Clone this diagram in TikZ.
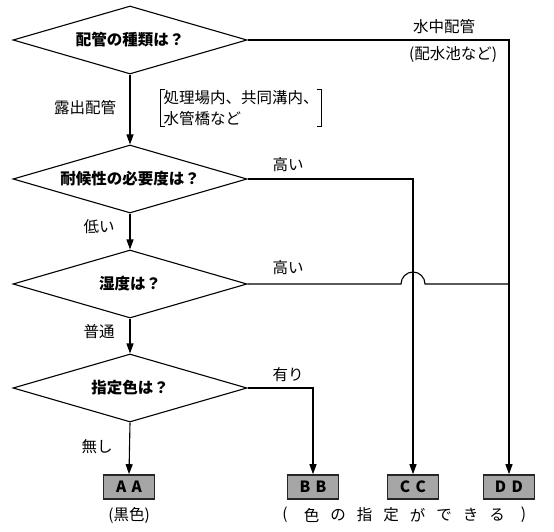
\documentclass[tikz,border=0pt]{standalone}
\usepackage{fontspec}
\setmainfont{Noto Sans CJK JP}
\usepackage{tikz}
\usetikzlibrary{arrows.meta,shapes.geometric,calc}

\begin{document}
\begin{tikzpicture}[
  x=1pt, y=-1pt,
  font=\fontsize{15.5}{21}\selectfont,
  decision/.style={diamond, draw, line width=1.1pt, aspect=3.4,
    minimum width=234pt, minimum height=68pt, inner sep=0pt,
    font=\fontsize{15.5}{21}\selectfont\bfseries},
  result/.style={draw=black!85, line width=1.6pt, fill=black!35,
    minimum width=51pt, minimum height=24pt, inner sep=0pt,
    font=\fontsize{15.5}{21}\selectfont\bfseries},
  lbl/.style={inner sep=0pt},
  bracket/.style={line width=0.8pt},
  arr/.style={-{Triangle[length=10pt,width=7pt]}, line width=1.1pt},
  conn/.style={line width=1.1pt},
]
\useasboundingbox (0,0) rectangle (554,532);

\node[decision] (D1) at (130,40)  {配管の種類は？};
\node[decision] (D2) at (130,179) {耐候性の必要度は？};
\node[decision] (D3) at (130,284) {湿度は？};
\node[decision] (D4) at (130,388) {指定色は？};

\node[result] (AA) at (129,487) {A\hspace{0.35em}A};
\node[result] (BB) at (313,487) {B\hspace{0.35em}B};
\node[result] (CC) at (413,487) {C\hspace{0.35em}C};
\node[result] (DD) at (509,487) {D\hspace{0.35em}D};

\node[lbl] (suichu) at (444,27) {水中配管};
\node[lbl] (haisui) at (453,55) {(配水池など)};
\node[lbl] (roshutsu) at (85,108) {露出配管};
\node[lbl, inner xsep=3pt, inner ysep=1pt, align=left] (rei) at (241,108)
  {処理場内、共同溝内、\\水管橋など};
\draw[bracket] ([xshift=5pt]rei.north west) -- (rei.north west)
  -- (rei.south west) -- ([xshift=5pt]rei.south west);
\draw[bracket] ([xshift=-5pt]rei.north east) -- (rei.north east)
  -- (rei.south east) -- ([xshift=-5pt]rei.south east);
\node[lbl] (takai1) at (288,165) {高い};
\node[lbl] (hikui) at (99,227) {低い};
\node[lbl] (takai2) at (288,268) {高い};
\node[lbl] (futsu) at (99,332) {普通};
\node[lbl] (ari) at (288,375) {有り};
\node[lbl] (nashi) at (97,447) {無し};
\node[lbl] (kuro) at (129,515) {(黒色)};
\foreach \ch [count=\i from 0] in {{(},色,の,指,定,が,で,き,る,{)}}
  \node[lbl] (shitei\i) at (285+26.5*\i,515) {\ch};

\draw[arr] (D1.south) -- (D2.north);
\draw[arr] (D2.south) -- (D3.north);
\draw[arr] (D3.south) -- (D4.north);
\draw[arr] (D4.south) -- (AA.north);

\draw[arr] (D1.east) -| (DD.north);
\draw[arr] (D2.east) -| (CC.north);
\draw[arr] (D4.east) -| (BB.north);
\draw[conn] (D3.east) -- ($(D3.east -| CC.north)+(-12,0)$)
  arc[start angle=180, end angle=0, radius=12pt] -- (D3.east -| DD.north);
\end{tikzpicture}
\end{document}
